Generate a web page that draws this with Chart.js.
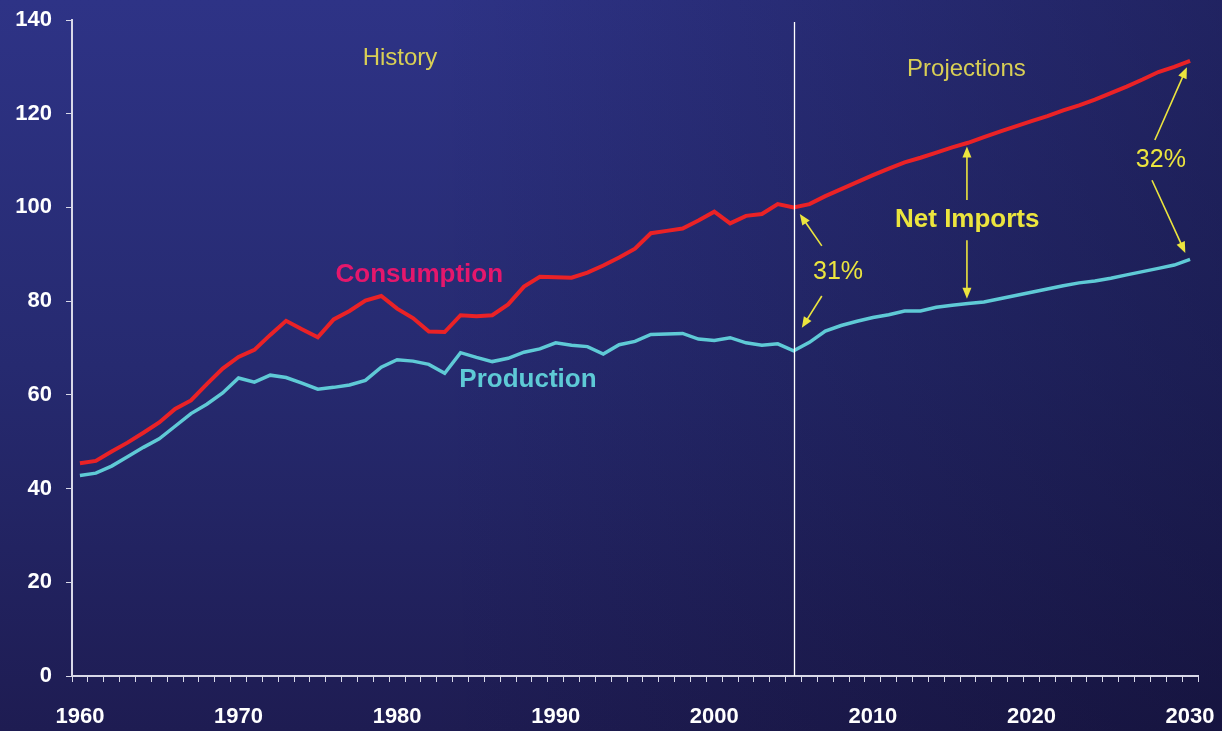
<!DOCTYPE html>
<html>
<head>
<meta charset="utf-8">
<script src="https://cdn.jsdelivr.net/npm/chart.js@4"></script>
<style>
html,body{margin:0;padding:0;}
body{width:1222px;height:731px;overflow:hidden;
background:linear-gradient(to right, rgba(0,0,0,0) 35%, rgba(8,6,30,0.35) 100%), linear-gradient(to bottom, #2e3386 0%, #262a70 50%, #1e1c52 100%);}
#wrap{position:absolute;left:0;top:0;width:1222px;height:731px;}
</style>
</head>
<body>
<div id="wrap"><canvas id="c" width="1222" height="731"></canvas></div>
<script>
const years = [];
for (let y = 1960; y <= 2030; y++) years.push(String(y));

const consumption = [
45.4,45.9,47.9,49.8,51.9,54.1,57.0,58.8,62.3,65.6,
68.1,69.6,72.8,75.8,74.0,72.3,76.1,77.9,80.1,81.1,
78.4,76.4,73.5,73.4,77.0,76.8,77.0,79.3,83.1,85.2,
85.1,85.0,86.1,87.6,89.3,91.2,94.5,95.0,95.5,97.2,
99.1,96.6,98.2,98.6,100.7,100.0,100.7,102.4,103.9,105.4,
106.9,108.3,109.6,110.6,111.7,112.8,113.8,115.0,116.2,117.3,
118.4,119.5,120.7,121.8,123.0,124.4,125.8,127.3,128.9,130.0,
131.3];

const production = [
42.8,43.3,44.8,46.8,48.8,50.6,53.3,56.0,58.0,60.4,
63.6,62.7,64.2,63.7,62.5,61.2,61.6,62.1,63.1,65.9,
67.5,67.2,66.5,64.6,69.0,68.0,67.1,67.8,69.1,69.8,
71.1,70.6,70.3,68.7,70.7,71.4,72.9,73.0,73.1,71.9,
71.6,72.2,71.1,70.6,70.9,69.4,71.2,73.6,74.8,75.7,
76.5,77.1,77.9,77.9,78.7,79.1,79.5,79.8,80.5,81.2,
81.9,82.6,83.3,83.9,84.3,84.9,85.6,86.3,87.0,87.7,
88.9];

const yTicks = [0,20,40,60,80,100,120,140];
const xLabelYears = ['1960','1970','1980','1990','2000','2010','2020','2030'];
const splitYear = '2005';

const labelTexts = {history:'History', projections:'Projections', consumption:'Consumption', production:'Production', net:'Net Imports', p31:'31%', p32:'32%'};

const YEL = '#ece53e';
const FONT = '"Liberation Sans", Arial, sans-serif';

function yi(year){ return year - 1960; }

const overlay = {
  id:'overlay',
  afterDatasetsDraw(chart){
    const ctx = chart.ctx, xs = chart.scales.x, ys = chart.scales.y, ca = chart.chartArea;
    const px = yr => xs.getPixelForValue(yi(yr));
    const py = v => ys.getPixelForValue(v);
    ctx.save();
    const sx = Math.round(xs.getPixelForValue(years.indexOf(splitYear))) + 0.5;
    ctx.strokeStyle = '#ffffff'; ctx.lineWidth = 1.3;
    ctx.beginPath(); ctx.moveTo(sx, ca.top + 2); ctx.lineTo(sx, ca.bottom); ctx.stroke();

    function text(t, yr, v, font, color){
      ctx.font = font; ctx.fillStyle = color; ctx.textAlign='center'; ctx.textBaseline='middle';
      ctx.fillText(t, px(yr), py(v));
    }
    function arrow(y1, v1, y2, v2){
      const x1=px(y1), a1=py(v1), x2=px(y2), a2=py(v2);
      const ang = Math.atan2(a2-a1, x2-x1);
      const hl = 11, hw = 4.5;
      ctx.strokeStyle = YEL; ctx.fillStyle = YEL; ctx.lineWidth = 1.6;
      ctx.beginPath(); ctx.moveTo(x1,a1);
      ctx.lineTo(x2 - Math.cos(ang)*hl*0.8, a2 - Math.sin(ang)*hl*0.8); ctx.stroke();
      ctx.beginPath();
      ctx.moveTo(x2,a2);
      ctx.lineTo(x2 - Math.cos(ang)*hl - Math.sin(ang)*hw, a2 - Math.sin(ang)*hl + Math.cos(ang)*hw);
      ctx.lineTo(x2 - Math.cos(ang)*hl + Math.sin(ang)*hw, a2 - Math.sin(ang)*hl - Math.cos(ang)*hw);
      ctx.closePath(); ctx.fill();
    }
    text(labelTexts.history, 1980.18, 131.9, '24px '+FONT, '#d9cf55');
    text(labelTexts.projections, 2015.9, 129.5, '24px '+FONT, '#d9cf55');
    text(labelTexts.consumption, 1981.4, 85.6, 'bold 26px '+FONT, '#e5176c');
    text(labelTexts.production, 1988.25, 63.2, 'bold 26px '+FONT, '#5ecad6');
    text(labelTexts.net, 2015.95, 97.3, 'bold 26px '+FONT, YEL);
    text(labelTexts.p31, 2007.8, 86.2, '25px '+FONT, YEL);
    text(labelTexts.p32, 2028.16, 110.1, '25px '+FONT, YEL);
    arrow(2006.78, 91.8, 2005.39, 98.6);
    arrow(2006.78, 81.1, 2005.52, 74.3);
    arrow(2015.93, 101.6, 2015.93, 113.0);
    arrow(2015.93, 93.0, 2015.93, 80.5);
    arrow(2027.78, 114.4, 2029.8, 129.9);
    arrow(2027.6, 105.8, 2029.7, 90.3);
    ctx.restore();
  }
};

new Chart(document.getElementById('c'), {
  type:'line',
  data:{
    labels: years,
    datasets:[
      {label:'Consumption', data:consumption, borderColor:'#ea2226', borderWidth:4, pointRadius:0, tension:0, fill:false},
      {label:'Production', data:production, borderColor:'#5fcad6', borderWidth:3.5, pointRadius:0, tension:0, fill:false}
    ]
  },
  options:{
    responsive:false, animation:false, devicePixelRatio:1,
    layout:{padding:{top:20, right:24, left:0, bottom:0}},
    plugins:{legend:{display:false}, tooltip:{enabled:false}},
    scales:{
      x:{
        type:'category', offset:true,
        grid:{display:true, offset:true, drawOnChartArea:false, color:'#d8d8e8', tickLength:6, lineWidth:1},
        border:{display:true, color:'#d8d8e8', width:2},
        ticks:{autoSkip:false, maxRotation:0, minRotation:0, color:'#ffffff', padding:22,
          font:{family:FONT, size:22, weight:'bold'},
          callback:function(v){ const l = this.getLabelForValue(v); return xLabelYears.includes(l) ? l : ''; }},
        afterFit(s){ s.height = 55; s.paddingLeft = 0; s.paddingRight = 0; }
      },
      y:{
        min:0, max:140,
        afterBuildTicks(s){ s.ticks = yTicks.map(v=>({value:v})); },
        grid:{display:true, drawOnChartArea:false, color:'#d8d8e8', tickLength:6},
        border:{display:true, color:'#d8d8e8', width:2},
        ticks:{color:'#ffffff', padding:14, font:{family:FONT, size:22, weight:'bold'}},
        afterFit(s){ s.width = 72; s.paddingTop = 0; s.paddingBottom = 0; }
      }
    }
  },
  plugins:[overlay]
});
</script>
</body>
</html>
